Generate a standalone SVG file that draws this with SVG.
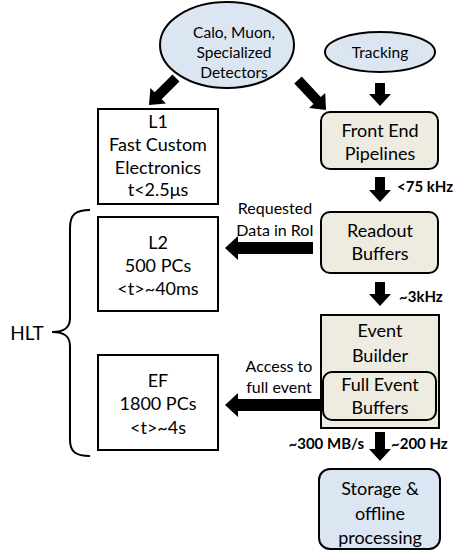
<svg xmlns="http://www.w3.org/2000/svg" width="454" height="551" viewBox="0 0 454 551">
<style>
text{font-family:Lato,"Open Sans","Liberation Sans",sans-serif;font-size:18px;fill:#000;text-anchor:middle;dominant-baseline:central}
.el{font-size:15.5px}
.sm{font-size:16px}
.lb{font-size:15px;font-weight:bold;text-anchor:start}
.lbr{font-size:15px;font-weight:bold;text-anchor:end}
.box{fill:#fff;stroke:#000;stroke-width:2}
.beige{fill:#eeece1;stroke:#000;stroke-width:2}
.blue{fill:#dce6f2;stroke:#000;stroke-width:2}
.arr{fill:#000}
</style>
<rect width="454" height="551" fill="#fff"/>
<g id="calo">
<ellipse class="blue" cx="227" cy="45" rx="67" ry="43"/>
<text x="234" y="32" class="el">Calo, Muon,</text>
<text x="234" y="52" class="el">Specialized</text>
<text x="234" y="72" class="el">Detectors</text>
</g>
<g id="tracking">
<ellipse class="blue" cx="380" cy="52" rx="55" ry="20"/>
<text x="380" y="52" class="el">Tracking</text>
</g>
<g id="l1">
<rect class="box" x="98" y="109" width="120" height="95"/>
<text x="158" y="121">L1</text>
<text x="158" y="144">Fast Custom</text>
<text x="158" y="167">Electronics</text>
<text x="158" y="189">t&lt;2.5μs</text>
</g>
<g id="l2">
<rect class="box" x="98" y="217" width="120" height="94"/>
<text x="158" y="242">L2</text>
<text x="158" y="265">500 PCs</text>
<text x="158" y="288">&lt;t&gt;~40ms</text>
</g>
<g id="ef">
<rect class="box" x="98" y="355" width="120" height="95"/>
<text x="158" y="380">EF</text>
<text x="158" y="403">1800 PCs</text>
<text x="158" y="427">&lt;t&gt;~4s</text>
</g>
<g id="frontend">
<rect class="beige" x="321" y="112" width="117" height="57" rx="9"/>
<text x="380" y="130">Front End</text>
<text x="380" y="153">Pipelines</text>
</g>
<g id="readout">
<rect class="beige" x="321" y="212" width="117" height="61" rx="9"/>
<text x="380" y="230">Readout</text>
<text x="380" y="253">Buffers</text>
</g>
<g id="eventbuilder">
<rect class="beige" x="321" y="315" width="118" height="113"/>
<text x="380" y="330">Event</text>
<text x="380" y="355">Builder</text>
</g>
<g id="fulleventbuffers">
<rect class="beige" x="323" y="372" width="113" height="48" rx="9"/>
<text x="380" y="384">Full Event</text>
<text x="380" y="407">Buffers</text>
</g>
<g id="storage">
<rect class="blue" x="319" y="469" width="121" height="80" rx="11"/>
<text x="380" y="488">Storage &amp;</text>
<text x="380" y="513">offline</text>
<text x="380" y="537">processing</text>
</g>
<g id="hlt">
<text x="27" y="332" style="font-size:19px">HLT</text>
<path d="M90,210 C76,210 70,214 70,228 L70,318 C70,328 64,332 52,332 C64,332 70,336 70,346 L70,440 C70,452 76,456 90,456" fill="none" stroke="#000" stroke-width="2"/>
</g>
<g id="connectors">
<polygon class="arr" points="179.5,81.5 161.7,99.3 166,103.6 149,105 150.4,88 154.7,92.3 172.5,74.5"/>
<polygon class="arr" points="294.3,83.4 313.5,103.9 309.1,108 326,110 325.2,93 320.8,97.1 301.7,76.6"/>
<polygon class="arr" points="375,83 385,83 385,94 391,94 380,106 369,94 375,94"/>
<polygon class="arr" points="375,177 385,177 385,190 391,190 380,202 369,190 375,190"/>
<polygon class="arr" points="375,282 385,282 385,294 391,294 380,306 369,294 375,294"/>
<polygon class="arr" points="375,432 385,432 385,449 391,449 380,461 369,449 375,449"/>
<polygon class="arr" points="313,242 313,254 238,254 238,260 225,248 238,236 238,242"/>
<polygon class="arr" points="321,399 321,411 238,411 238,417 225,405 238,393 238,399"/>
<text x="397" y="186" class="lb">&lt;75 kHz</text>
<text x="399" y="296" class="lb">~3kHz</text>
<text x="364" y="443" class="lbr">~300 MB/s</text>
<text x="391" y="443" class="lb">~200 Hz</text>
<text x="275" y="207" class="sm">Requested</text>
<text x="275" y="229" class="sm">Data in RoI</text>
<text x="279" y="365" class="sm">Access to</text>
<text x="279" y="386" class="sm">full event</text>
</g>
</svg>
